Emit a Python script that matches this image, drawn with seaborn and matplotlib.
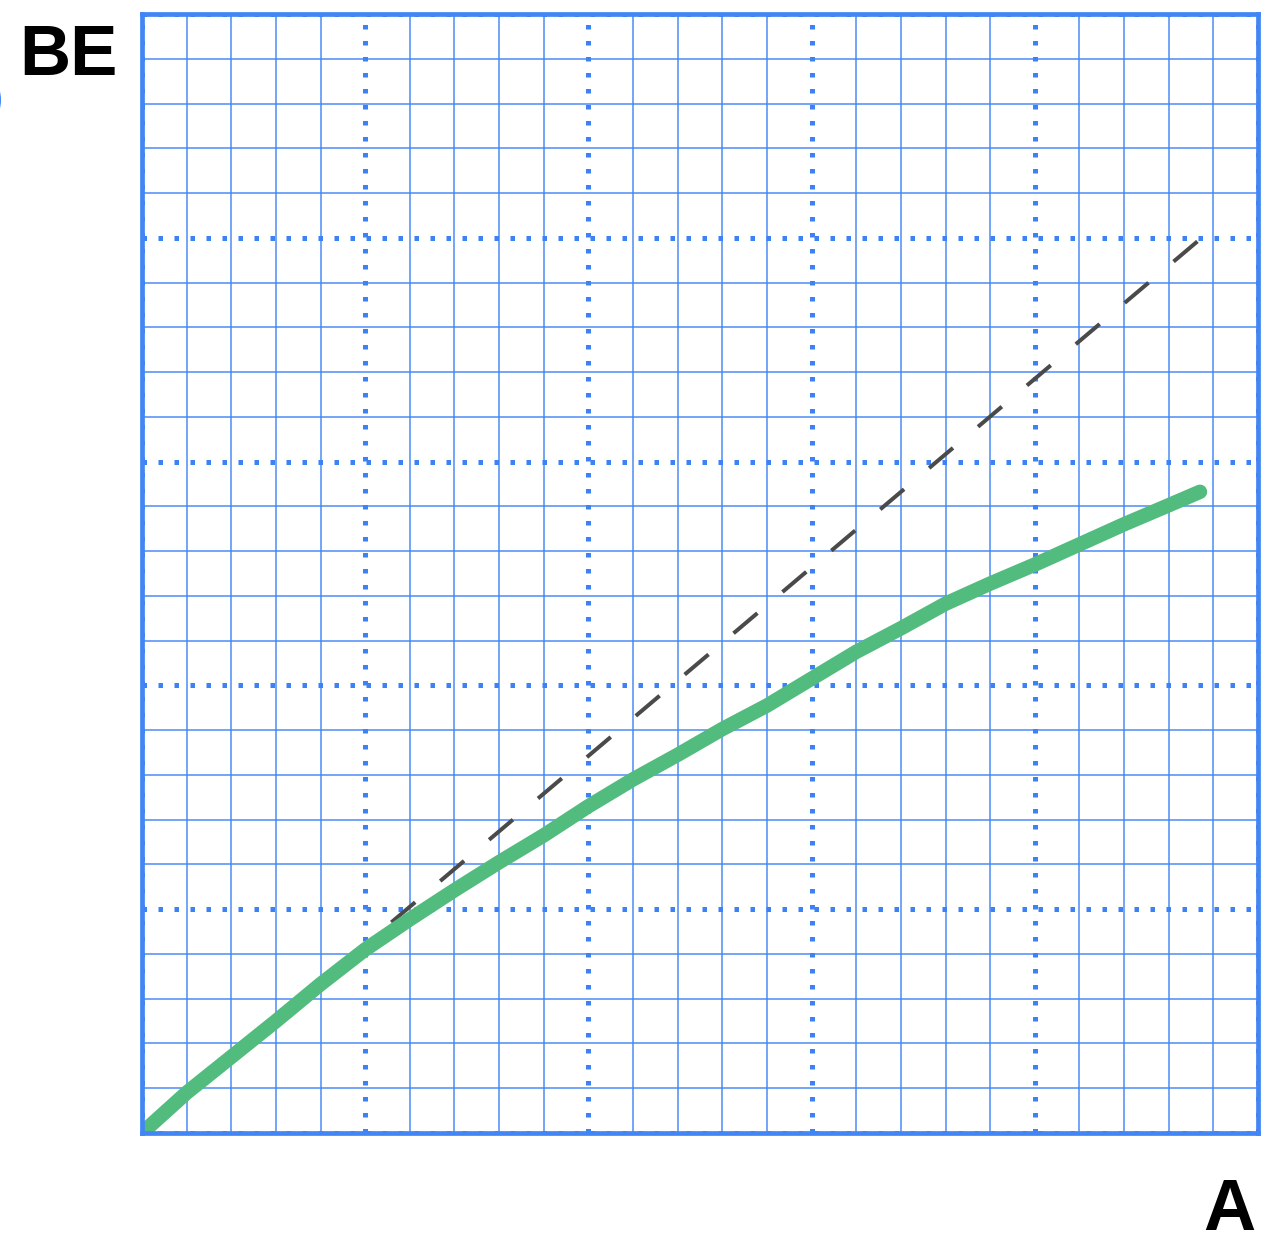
import matplotlib
matplotlib.use("Agg")
import matplotlib.pyplot as plt
import seaborn as sns
import pandas as pd
from matplotlib.ticker import MultipleLocator, NullFormatter
from matplotlib.patches import Ellipse

# ---- data ----
curve_x = [0.0, 0.2, 0.4, 0.6, 0.8, 1.0, 1.2, 1.4, 1.6, 1.8, 2.0, 2.2, 2.4, 2.6,
           2.8, 3.0, 3.2, 3.4, 3.6, 3.8, 4.0, 4.2, 4.4, 4.6, 4.74]
curve_y = [0.0, 0.18, 0.34, 0.50, 0.665, 0.82, 0.955, 1.085, 1.21, 1.33, 1.46,
           1.58, 1.69, 1.805, 1.91, 2.03, 2.15, 2.255, 2.365, 2.455, 2.54, 2.63,
           2.72, 2.805, 2.865]
ref_x = [0.0, 4.73]
ref_y = [0.0, 3.985]
x_label = "A"
y_label = "BE"

W, H, DPI = 1266, 1238, 100
sns.set_style("white")
plt.rcParams["font.family"] = ["Liberation Sans", "DejaVu Sans"]

fig = plt.figure(figsize=(W / DPI, H / DPI), dpi=DPI)
ax = fig.add_axes([142 / W, (H - 1133) / H, (1258 - 142) / W, (1133 - 14) / H])

blue = "#4285f4"
px = 72 / DPI  # points per pixel

df_curve = pd.DataFrame({"x": curve_x, "y": curve_y})
df_ref = pd.DataFrame({"x": ref_x, "y": ref_y})

sns.lineplot(data=df_ref, x="x", y="y", ax=ax, color="#4a4a4a", lw=4 * px,
             linestyle=(14.4, (7.8, 8.2)), zorder=3)
sns.lineplot(data=df_curve, x="x", y="y", ax=ax, color="#52bc7f", lw=14.5 * px,
             solid_capstyle="round", solid_joinstyle="round", zorder=4)

ax.set_xlim(0, 5)
ax.set_ylim(0, 5)
for axis in (ax.xaxis, ax.yaxis):
    axis.set_major_locator(MultipleLocator(1))
    axis.set_minor_locator(MultipleLocator(0.2))
    axis.set_major_formatter(NullFormatter())
    axis.set_minor_formatter(NullFormatter())
ax.tick_params(which="both", length=0)
ax.set_xlabel("")
ax.set_ylabel("")
ax.set_axisbelow(True)
ax.grid(which="minor", color=blue, lw=1.6 * px, alpha=0.9)
ax.grid(which="major", color="#3b82f6", lw=5 * px, linestyle=(0, (0.9, 2.3)))

for s in ax.spines.values():
    s.set_visible(True)
    s.set_color(blue)
    s.set_linewidth(4.7 * px)
    s.set_zorder(5)

fig.text(118 / W, (H - 75) / H, y_label, ha="right", va="baseline",
         fontsize=51, fontweight="bold", color="black")
fig.text(1255 / W, (H - 1230) / H, x_label, ha="right", va="baseline",
         fontsize=52, fontweight="bold", color="black")

fig.add_artist(Ellipse((-4 / W, (H - 100) / H), 10 / W, 28 / H, lw=0,
                       transform=fig.transFigure, facecolor=blue, clip_on=False))

fig.savefig("out.png", dpi=DPI, facecolor="white")
